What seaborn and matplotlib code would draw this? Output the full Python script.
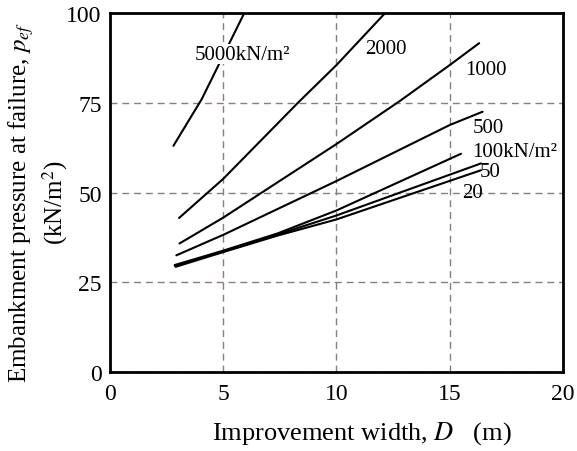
import matplotlib
matplotlib.use("Agg")
import matplotlib.pyplot as plt
import seaborn as sns
import pandas as pd

# Failure pressure curves for each ground strength (kN/m2)
loads = ["5000", "2000", "1000", "500", "100", "50", "20"]

width_5000 = [2.8, 4.05, 5.93]
pres_5000 = [63.0, 76.0, 100.0]

width_2000 = [3.05, 5.0, 8.3, 10.0, 12.15]
pres_2000 = [42.9, 53.8, 75.0, 85.5, 100.0]

width_1000 = [3.07, 5.0, 10.0, 12.8, 15.0, 16.3]
pres_1000 = [35.8, 43.0, 63.5, 75.5, 85.5, 91.6]

width_500 = [2.93, 5.0, 10.0, 15.0, 16.45]
pres_500 = [32.5, 38.2, 53.2, 68.8, 72.5]

width_100 = [2.86, 5.0, 7.4, 10.0, 15.5]
pres_100 = [29.8, 33.8, 38.6, 45.0, 60.8]

width_50 = [2.86, 5.0, 7.4, 10.0, 16.38]
pres_50 = [29.6, 33.6, 38.3, 43.6, 58.1]

width_20 = [2.9, 5.0, 7.4, 10.0, 16.38]
pres_20 = [29.3, 33.4, 38.0, 42.5, 56.2]

curve_labels = ["5000kN/m²", "2000", "1000", "500", "100kN/m²", "50", "20"]
label_x = [3.75, 11.25, 15.7, 16.0, 16.0, 16.33, 15.53]
label_y = [88.5, 90.0, 84.4, 68.2, 61.5, 55.8, 50.0]

x_ticks = [0, 5, 10, 15, 20]
y_ticks = [0, 25, 50, 75, 100]

widths = [width_5000, width_2000, width_1000, width_500, width_100, width_50, width_20]
pressures = [pres_5000, pres_2000, pres_1000, pres_500, pres_100, pres_50, pres_20]

frames = []
for load, w, p in zip(loads, widths, pressures):
    frames.append(pd.DataFrame({"D": w, "p": p, "load": load}))
df = pd.concat(frames, ignore_index=True)

sns.set_theme(style="white")
plt.rcParams["font.family"] = ["Liberation Serif", "DejaVu Serif"]
plt.rcParams["mathtext.fontset"] = "stix"

fig = plt.figure(figsize=(5.77, 4.52), dpi=100)
ax = fig.add_axes([0.1906, 0.1748, 0.7851, 0.7942])

sns.lineplot(data=df, x="D", y="p", hue="load", hue_order=loads,
             palette=["black"] * len(loads), estimator=None, sort=False,
             linewidth=1.5, legend=False, ax=ax, zorder=3)

ax.set_xlim(0, 20)
ax.set_ylim(0, 100)
ax.set_xticks(x_ticks)
ax.set_yticks(y_ticks)
ax.set_xticklabels([str(t) for t in x_ticks])
ax.set_yticklabels([str(t) for t in y_ticks])

ax.grid(True, linestyle=(0, (5, 3.5)), color="#8a7d7d", linewidth=1.0, zorder=1)
ax.set_axisbelow(True)

for s in ax.spines.values():
    s.set_linewidth(2.0)
    s.set_color("black")
    s.set_visible(True)

ax.tick_params(axis="both", direction="in", length=4, width=1,
               labelsize=17, colors="black", pad=6)
ax.tick_params(axis="x", pad=8)

for txt, tx, ty in zip(curve_labels, label_x, label_y):
    kw = {}
    if txt.startswith("5000"):
        kw["bbox"] = dict(facecolor="white", edgecolor="none", pad=0.5)
    ax.text(tx, ty, txt, ha="left", va="center", fontsize=15,
            color="black", zorder=4, **kw)

ax.set_xlabel("Improvement width, $D$   (m)", fontsize=19, color="black")
ax.xaxis.set_label_coords(0.556, -0.13)
ax.set_ylabel("Embankment pressure at failure, $p_{ef}$\n(kN/m$^2$)",
              fontsize=18, color="black", linespacing=1.2)
ax.yaxis.set_label_coords(-0.088, 0.475)

fig.savefig("out.png", dpi=100, facecolor="white")
